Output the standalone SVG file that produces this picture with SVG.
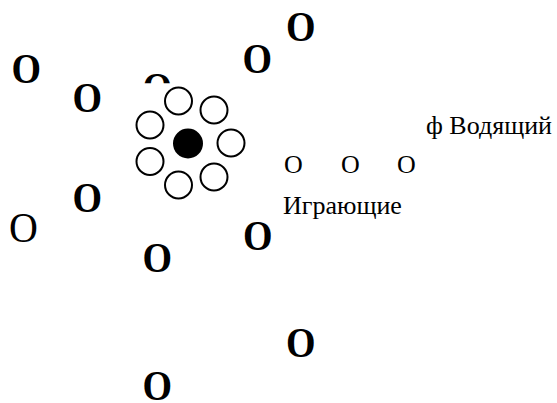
<svg xmlns="http://www.w3.org/2000/svg" width="557" height="403" viewBox="0 0 557 403">
<style>
.b{font-family:"Liberation Serif","Times New Roman",serif;font-weight:bold;font-size:38px;fill:#000}
.r{font-family:"Liberation Serif","Times New Roman",serif;font-size:40px;fill:#000}
.t{font-family:"Liberation Serif","Times New Roman",serif;font-size:26px;fill:#000}
.c{fill:#fff;stroke:#000;stroke-width:2}
</style>
<defs>
<clipPath id="cp"><rect x="-20" y="-40" width="60" height="23"/></clipPath>
</defs>
<rect width="557" height="403" fill="#fff"/>
<g id="players-outer">
<text class="b" transform="translate(11.5,83) scale(1,1.1)">O</text>
<text class="b" transform="translate(72.5,112) scale(1,1.1)">O</text>
<text class="b" transform="translate(242.5,73) scale(1,1.1)">O</text>
<text class="b" transform="translate(286,41) scale(1,1.1)">O</text>
<text class="b" transform="translate(142.5,102) scale(1,1.1)" clip-path="url(#cp)">O</text>
<text class="b" transform="translate(72.5,212) scale(1,1.1)">O</text>
<text class="r" transform="translate(9,242) scale(1,1.08)">O</text>
<text class="b" transform="translate(142.5,272) scale(1,1.1)">O</text>
<text class="b" transform="translate(243,250) scale(1,1.1)">O</text>
<text class="b" transform="translate(286,357) scale(1,1.1)">O</text>
<text class="b" transform="translate(142.5,400) scale(1,1.1)">O</text>
</g>
<g id="ring">
<circle class="c" cx="178.5" cy="101" r="13.5"/>
<circle class="c" cx="214" cy="110" r="13.5"/>
<circle class="c" cx="150" cy="125" r="13.5"/>
<circle class="c" cx="231" cy="143" r="13.5"/>
<circle class="c" cx="150" cy="161.5" r="13.5"/>
<circle class="c" cx="214" cy="177" r="13.5"/>
<circle class="c" cx="178.5" cy="185" r="13.5"/>
</g>
<g id="leader">
<circle cx="188" cy="143.5" r="15" fill="#000"/>
</g>
<g id="legend">
<text class="t" x="426" y="134">ф Водящий</text>
<text class="t" y="173"><tspan x="284">O</tspan><tspan x="341">O</tspan><tspan x="397">O</tspan></text>
<text class="t" x="283" y="214">Играющие</text>
</g>
<g id="connectors"/>
</svg>
